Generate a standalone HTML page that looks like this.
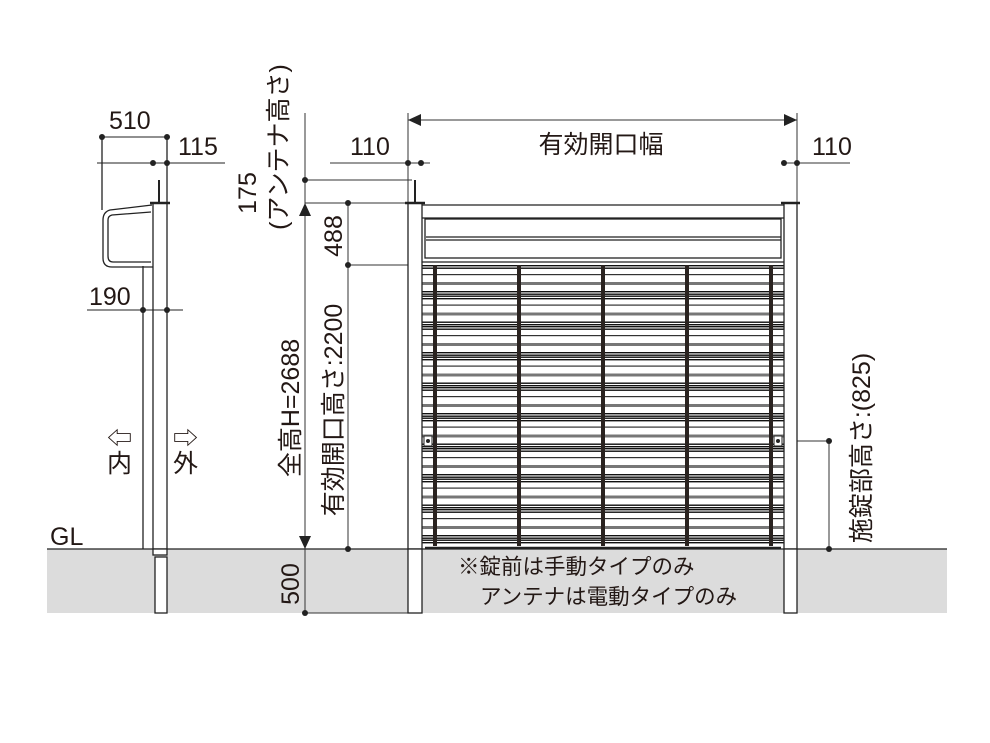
<!DOCTYPE html>
<html><head><meta charset="utf-8"><style>
html,body{margin:0;padding:0;background:#fff}
svg{display:block}
text{font-family:"Liberation Sans","Noto Sans CJK JP",sans-serif;fill:#231815;font-size:25px}
</style></head><body>
<svg width="990" height="743" viewBox="0 0 990 743" xmlns="http://www.w3.org/2000/svg">
<defs>
<pattern id="sl" x="0" y="265" width="10" height="30.5" patternUnits="userSpaceOnUse">
<rect x="0" y="0" width="10" height="30.5" fill="#fff"/>
<rect x="0" y="0" width="10" height="1.4" fill="#111"/>
<rect x="0" y="2.5" width="10" height="1.4" fill="#111"/>
<rect x="0" y="9" width="10" height="1.2" fill="#333"/>
<rect x="0" y="17" width="10" height="3" fill="#777"/>
<rect x="0" y="26" width="10" height="1.4" fill="#111"/>
<rect x="0" y="28.5" width="10" height="1.4" fill="#111"/>
</pattern>
</defs>
<rect x="47" y="549" width="900" height="64" fill="#dcdcdc"/>
<line x1="47" y1="549" x2="947" y2="549" stroke="#222" stroke-width="1.2"/>
<text x="50" y="545">GL</text>

<g stroke="#222" stroke-width="1.3" fill="none">
<rect x="153" y="203" width="14" height="346" fill="#fff"/>
<rect x="153" y="549" width="14" height="6" fill="#fff"/>
<rect x="155" y="557" width="12" height="56" fill="#fff"/>
<line x1="143" y1="266" x2="143" y2="549"/>
<line x1="150" y1="203" x2="170" y2="203" stroke-width="2.5"/>
<line x1="159" y1="180" x2="159" y2="203" stroke-width="2"/>
<path d="M152,205 L110,210 Q103,212 103,220 L103,258 Q103,267 112,267 L153,267"/>
<path d="M151,212 L112,215 Q108,216 108,220 L108,256 Q108,262 113,262 L151,262"/>
<line x1="102" y1="137" x2="102" y2="210"/>
<line x1="102" y1="137" x2="167" y2="137" stroke-width="1"/>
<line x1="167" y1="137" x2="167" y2="203"/>
<line x1="97" y1="163" x2="225" y2="163" stroke-width="1"/>
<line x1="87" y1="310" x2="183" y2="310" stroke-width="1"/>
</g>
<g fill="#222">
<circle cx="102" cy="137" r="3"/><circle cx="167" cy="137" r="3"/>
<circle cx="153" cy="163" r="3"/><circle cx="167" cy="163" r="3"/>
<circle cx="143" cy="310" r="3"/><circle cx="167" cy="310" r="3"/>
</g>
<text x="109" y="129">510</text>
<text x="178" y="155">115</text>
<text x="89" y="305">190</text>
<text x="107" y="447">⇦</text>
<text x="107" y="472">内</text>
<text x="173" y="447">⇨</text>
<text x="173" y="472">外</text>

<g stroke="#333" stroke-width="1" fill="none">
<line x1="305" y1="113" x2="305" y2="613"/>
<line x1="305" y1="180" x2="412" y2="180"/>
<line x1="305" y1="203" x2="420" y2="203"/>
<line x1="348" y1="203" x2="348" y2="549"/>
<line x1="348" y1="265" x2="420" y2="265"/>
<line x1="305" y1="613" x2="408" y2="613"/>
<line x1="330" y1="163" x2="430" y2="163"/>
<line x1="784" y1="163" x2="850" y2="163"/>
<line x1="408" y1="113" x2="408" y2="203"/>
<line x1="797" y1="113" x2="797" y2="203"/>
<line x1="408" y1="120" x2="797" y2="120"/>
<line x1="780" y1="441" x2="829" y2="441"/>
<line x1="829" y1="441" x2="829" y2="549"/>
</g>
<g fill="#222">
<circle cx="305" cy="180" r="3"/><circle cx="305" cy="613" r="3"/>
<circle cx="348" cy="203" r="3"/><circle cx="348" cy="265" r="3"/><circle cx="348" cy="549" r="3"/>
<circle cx="408" cy="163" r="3"/><circle cx="421" cy="163" r="3"/>
<circle cx="784" cy="163" r="3"/><circle cx="797" cy="163" r="3"/>
<circle cx="829" cy="441" r="3"/><circle cx="829" cy="549" r="3"/>
<polygon points="305,203 299,216 311,216"/>
<polygon points="305,549 299,536 311,536"/>
<polygon points="408,120 421,114 421,126"/>
<polygon points="797,120 784,114 784,126"/>
</g>
<text x="350" y="155">110</text>
<text x="812" y="155">110</text>
<text x="601" y="153" text-anchor="middle">有効開口幅</text>
<text transform="translate(256,193) rotate(-90)" text-anchor="middle">175</text>
<text transform="translate(287,147) rotate(-90)" text-anchor="middle">(アンテナ高さ)</text>
<text transform="translate(342,236) rotate(-90)" text-anchor="middle">488</text>
<text transform="translate(299,408) rotate(-90)" text-anchor="middle">全高H=2688</text>
<text transform="translate(342,410) rotate(-90)" text-anchor="middle">有効開口高さ:2200</text>
<text transform="translate(299,584) rotate(-90)" text-anchor="middle">500</text>
<text transform="translate(870,448) rotate(-90)" text-anchor="middle">施錠部高さ:(825)</text>

<rect x="422" y="265" width="362" height="283" fill="url(#sl)"/>
<g stroke="#222" stroke-width="1.3" fill="none">
<rect x="408" y="203" width="14" height="346" fill="#fff"/>
<rect x="408" y="549" width="14" height="64" fill="#fff"/>
<rect x="784" y="203" width="13" height="346" fill="#fff"/>
<rect x="784" y="549" width="13" height="64" fill="#fff"/>
<line x1="405" y1="203" x2="425" y2="203" stroke-width="2.5"/>
<line x1="781" y1="203" x2="800" y2="203" stroke-width="2.5"/>
<line x1="415" y1="180" x2="415" y2="203" stroke-width="2"/>
<line x1="422" y1="205" x2="784" y2="205"/>
<line x1="422" y1="218" x2="784" y2="218"/>
<rect x="425" y="219" width="356" height="39"/>
<line x1="426" y1="237" x2="781" y2="237"/>
<line x1="426" y1="240" x2="781" y2="240"/>
<line x1="422" y1="262" x2="784" y2="262"/>
<line x1="425" y1="548" x2="781" y2="548" stroke-width="2.5"/>
</g>
<g stroke="#2a2320" stroke-width="4">
<line x1="435" y1="265" x2="435" y2="546"/>
<line x1="519" y1="265" x2="519" y2="546"/>
<line x1="603" y1="265" x2="603" y2="546"/>
<line x1="687" y1="265" x2="687" y2="546"/>
<line x1="771" y1="265" x2="771" y2="546"/>
</g>
<g stroke="#222" stroke-width="1" fill="#fff">
<rect x="424" y="436" width="8" height="10"/><rect x="774" y="436" width="8" height="10"/>
</g>
<circle cx="428" cy="441" r="2" fill="#222"/><circle cx="778" cy="441" r="2" fill="#222"/>

<text x="458" y="574" style="font-size:21.5px">※錠前は手動タイプのみ</text>
<text x="480" y="604" style="font-size:21.5px">アンテナは電動タイプのみ</text>
</svg>
</body></html>
